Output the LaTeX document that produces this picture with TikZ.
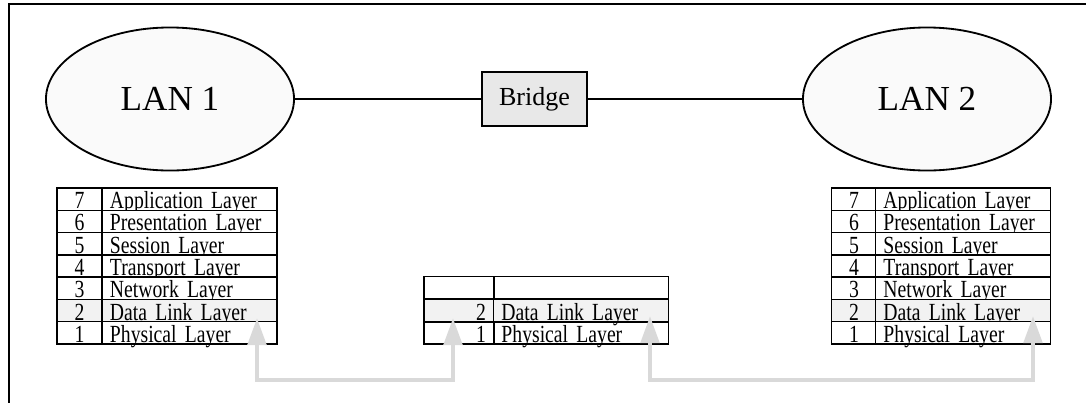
\documentclass[tikz,border=0pt]{standalone}
\usepackage{fontspec}
\setmainfont{Liberation Serif}
\newfontfamily\layerfont[FakeStretch=0.8]{Liberation Serif}
\usepackage{tikz}
\usetikzlibrary{arrows.meta,positioning,shapes.geometric}

\begin{document}
\begin{tikzpicture}[
    x=0.025cm, y=-0.025cm,
    lan/.style={ellipse, draw, line width=1.3pt, fill=gray!4,
                minimum width=6.2cm, minimum height=3.575cm,
                font=\fontsize{25}{29}\selectfont},
    bridgebox/.style={rectangle, draw, line width=1.3pt, fill=gray!18,
                minimum width=2.625cm, minimum height=1.35cm,
                font=\fontsize{18.5}{22}\selectfont},
    cell/.style={rectangle, draw, line width=1pt, inner xsep=0.2cm,
                inner ysep=0.04cm, text depth=0pt, text height=0.477cm,
                font=\layerfont\fontsize{17.5}{19}\selectfont},
    numcell/.style={cell, text width=0.725cm, align=center},
    midnum/.style={cell, text width=1.35cm, align=right},
    namecell/.style={cell, text width=3.975cm, align=left},
    link/.style={line width=1.3pt},
    pdu/.style={{Triangle[length=0.68cm,width=0.46cm]}-{Triangle[length=0.68cm,width=0.46cm]},
                line width=0.11cm, draw=gray!30}
]
\useasboundingbox (0,0) rectangle (1086,403);
\draw[line width=1.5pt] (1086,4) -- (9,4) -- (9,403);

% networks and bridge
\node[lan] (lan1) at (170,99) {LAN 1};
\node[lan] (lan2) at (927,99) {LAN 2};
\node[bridgebox] (bridge) at (534.5,99) {Bridge};
\draw[link] (lan1) -- (bridge);
\draw[link] (bridge) -- (lan2);

% OSI stacks of the two stations
\foreach \n/\layer/\tint in {7/Application Layer/white, 6/Presentation Layer/white,
    5/Session Layer/white, 4/Transport Layer/white, 3/Network Layer/white,
    2/Data Link Layer/gray!10, 1/Physical Layer/white} {
  \pgfmathsetmacro\ry{188+(7.5-\n)*22.29}
  \node[numcell, fill=\tint] (ln\n) at (79.5,\ry) {\n};
  \node[namecell, fill=\tint] (lt\n) at (189.5,\ry) {\layer};
  \node[numcell, fill=\tint] (rn\n) at (854,\ry) {\n};
  \node[namecell, fill=\tint] (rt\n) at (963,\ry) {\layer};
}

% stack of the bridge
\node[midnum] (mn3) at (459,287.5) {};
\node[namecell] (mt3) at (581,287.5) {};
\node[midnum, fill=gray!10] (mn2) at (459,310.5) {2};
\node[namecell, fill=gray!10] (mt2) at (581,310.5) {Data Link Layer};
\node[midnum] (mn1) at (459,333) {1};
\node[namecell] (mt1) at (581,333) {Physical Layer};

% frame paths
\coordinate (tipA) at (257,318);
\coordinate (tipB) at (453,318);
\coordinate (tipC) at (650,316);
\coordinate (tipD) at (1033,316);
\draw[pdu] (tipA) -- ++(0,62) -| (tipB);
\draw[pdu] (tipC) -- ++(0,64) -| (tipD);
\end{tikzpicture}
\end{document}
